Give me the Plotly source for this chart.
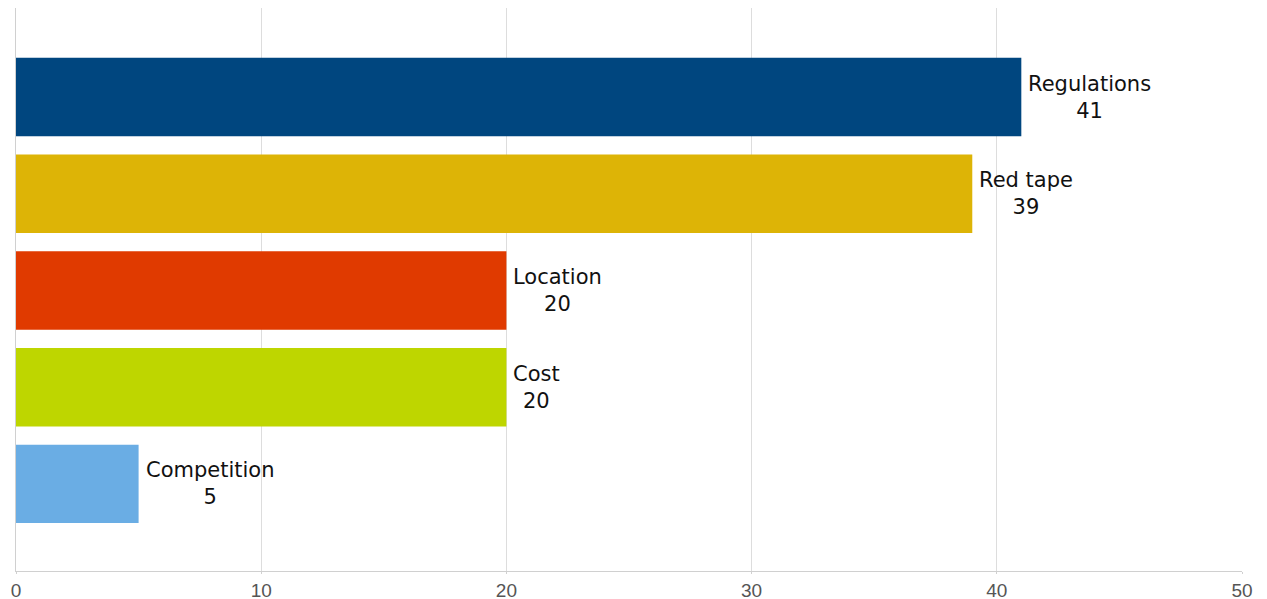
import plotly.graph_objects as go

categories = ["Regulations", "Red tape", "Location", "Cost", "Competition"]
values = [41, 39, 20, 20, 5]
colors = ["#00467F", "#DDB406", "#E03A00", "#BED600", "#6AADE4"]
tick_vals = [0, 10, 20, 30, 40, 50]

fig = go.Figure()
fig.add_trace(go.Bar(
    x=values, y=categories, orientation="h",
    marker=dict(color=colors, line=dict(width=0)),
    hoverinfo="x+y",
))

for c, v in zip(categories, values):
    fig.add_annotation(
        x=v, y=c, xref="x", yref="y",
        text=f"{c}<br>{v}", showarrow=False,
        xanchor="left", yanchor="middle", align="center", xshift=5,
        font=dict(family="DejaVu Sans", size=21, color="#111111"),
    )

fig.update_layout(
    width=1267, height=599,
    margin=dict(l=8, r=33, t=0, b=36, autoexpand=False),
    plot_bgcolor="white", paper_bgcolor="white",
    bargap=0.19, showlegend=False,
    xaxis=dict(
        range=[0, 50], tickvals=tick_vals, showgrid=True, gridcolor="#DDDDDD", gridwidth=1,
        zeroline=False, showline=True, linecolor="#D0D0D0", linewidth=1,
        ticks="outside", ticklen=2, tickcolor="#D0D0D0", automargin=False,
        tickfont=dict(family="Liberation Sans", size=19, color="#555555"),
    ),
    yaxis=dict(
        type="category", categoryorder="array", categoryarray=categories,
        range=[4.9, -0.92], showticklabels=False, showgrid=False, zeroline=False,
        showline=True, linecolor="#D0D0D0", linewidth=1, ticks="", automargin=False,
    ),
)

fig.write_html("out.html")
